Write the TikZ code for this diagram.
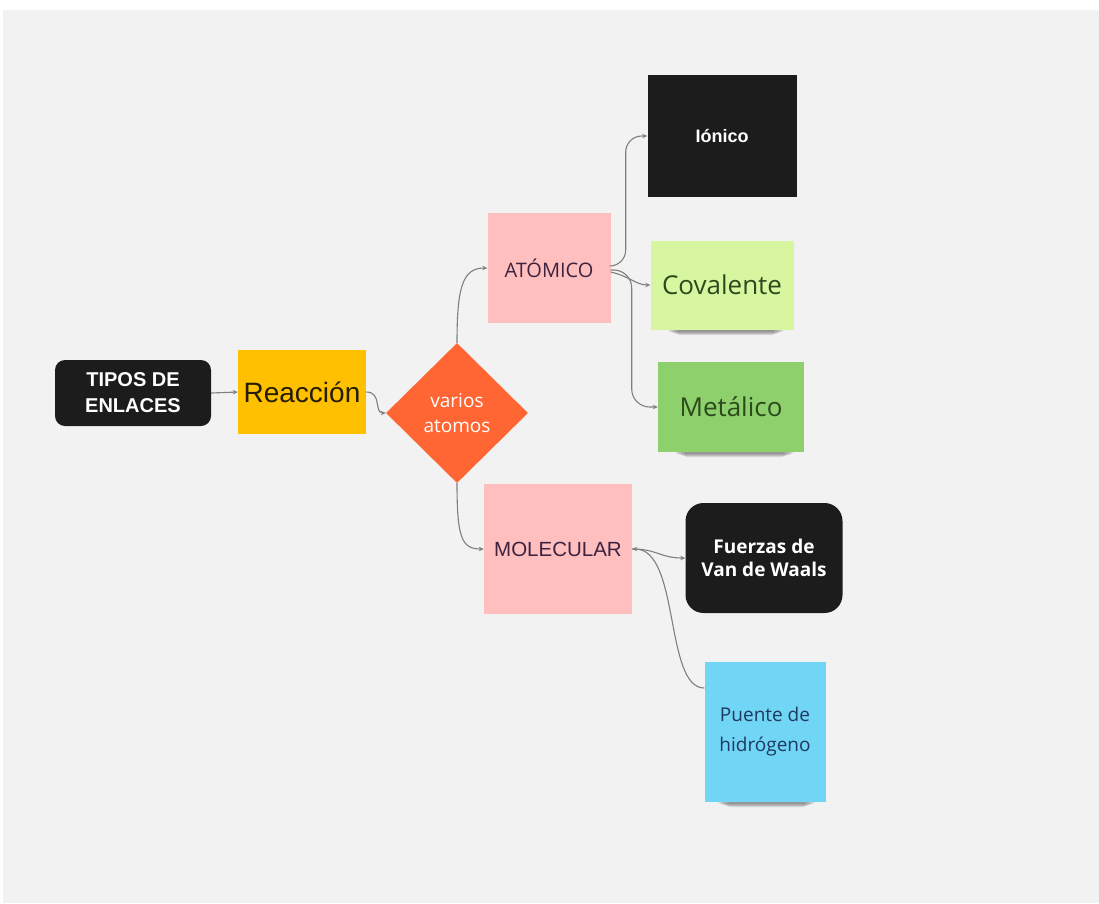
\documentclass[tikz,border=0pt]{standalone}
\usepackage{fontspec}
\setmainfont{Liberation Sans}
\newfontfamily\arialf{Liberation Sans}
\newfontfamily\segoef{Open Sans}
\usetikzlibrary{shapes.geometric,arrows.meta,calc}
\definecolor{bgc}{HTML}{F2F2F2}
\definecolor{blk}{HTML}{1C1C1C}
\definecolor{yel}{HTML}{FFC000}
\definecolor{dia}{HTML}{FF6633}
\definecolor{pnk}{HTML}{FFBFBF}
\definecolor{lgr}{HTML}{D8F5A0}
\definecolor{mgr}{HTML}{8DD06C}
\definecolor{cya}{HTML}{71D5F6}
\definecolor{pur}{HTML}{3D2340}
\definecolor{dgr}{HTML}{2C4A1C}
\definecolor{dbl}{HTML}{1E3A5F}
\definecolor{lin}{HTML}{7F7F7F}
\tikzset{
  box/.style={rectangle, inner sep=0pt, align=center},
  conn/.style={draw=lin, line width=1.1pt, -{Stealth[length=5pt,width=4.5pt]}},
  shad/.style={fill=black, opacity=0.11, rounded corners=3pt},
}
\begin{document}
\begin{tikzpicture}[x=1pt,y=-1pt]
\useasboundingbox (0,0) rectangle (1099,903);
\fill[white] (0,0) rectangle (1099,903);
\fill[bgc] (3,10) rectangle (1099,903);

% nodes
\node[box, fill=blk, rounded corners=10pt, minimum width=156pt, minimum height=66pt,
  text=white, font=\arialf\bfseries\fontsize{20}{26}\selectfont] (tipos) at (133,393) {TIPOS DE\\ENLACES};
\node[box, fill=yel, minimum width=128pt, minimum height=84pt, text=black!85!yel,
  font=\arialf\fontsize{28}{32}\selectfont] (reac) at (302,392) {Reacción};
\node[diamond, fill=dia, inner sep=0pt, minimum width=142pt, minimum height=140pt, align=center,
  text=white, font=\segoef\fontsize{19}{25}\selectfont] (var) at (457,413) {varios\\atomos};
\node[box, fill=pnk, minimum width=123pt, minimum height=110pt, text=pur,
  font=\segoef\fontsize{20}{24}\selectfont] (atom) at (549,268) {ATÓMICO};
\node[box, fill=pnk, minimum width=148pt, minimum height=130pt, text=pur,
  font=\arialf\fontsize{20.5}{24}\selectfont] (mol) at (558,549) {MOLECULAR};
\node[box, fill=blk, minimum width=149pt, minimum height=122pt, text=white,
  font=\arialf\bfseries\fontsize{18}{22}\selectfont] (ion) at (722,136) {Iónico};

% sticky-note shadows
\foreach \k in {0,1,2,3}{
  \fill[shad] (668+\k*3, 326+\k) rectangle (784-\k*3, 332+\k);
  \fill[shad] (675+\k*3, 448+\k) rectangle (794-\k*3, 454+\k);
  \fill[shad] (718+\k*3, 798+\k) rectangle (815-\k*3, 804+\k);
}

\node[box, fill=lgr, minimum width=143pt, minimum height=89pt, text=dgr,
  font=\segoef\fontsize{26}{30}\selectfont] (cov) at (722,285) {Covalente};
\node[box, fill=mgr, minimum width=146pt, minimum height=90pt, text=dgr,
  font=\segoef\fontsize{26}{30}\selectfont] (met) at (731,407) {Metálico};
\node[box, fill=blk, rounded corners=18pt, minimum width=157pt, minimum height=110pt, text=white,
  font=\segoef\bfseries\fontsize{19}{23}\selectfont] (fue) at (764,558) {Fuerzas de\\Van de Waals};
\node[box, fill=cya, minimum width=121pt, minimum height=140pt, text=dbl,
  font=\segoef\fontsize{19}{30}\selectfont] (pue) at (765,732) {Puente de\\hidrógeno};

% connectors
\draw[conn] (tipos.east) -- (reac.west);
\draw[conn] (reac.east) .. controls +(16,0) and +(-12,0) .. (var.west);
\draw[conn] (var.north) .. controls +(0,-55) and +(-25,0) .. (atom.west);
\draw[conn] (var.south) .. controls +(0,55) and +(-22,0) .. (mol.west);
\draw[conn, rounded corners=16pt] ($(atom.east)+(0,-2)$) -- ++(15,0) |- (ion.west);
\draw[conn] ($(atom.east)+(0,4)$) .. controls +(18,4) and +(-14,0) .. (cov.west);
\draw[conn, rounded corners=18pt] ($(atom.east)+(0,2)$) -- ++(21,0) |- (met.west);
\draw[conn] (mol.east) .. controls +(25,0) and +(-25,0) .. (fue.west);
\draw[conn] ($(pue.west)+(0,-44)$) .. controls +(-40,0) and +(48,0) .. (mol.east);
\end{tikzpicture}
\end{document}
